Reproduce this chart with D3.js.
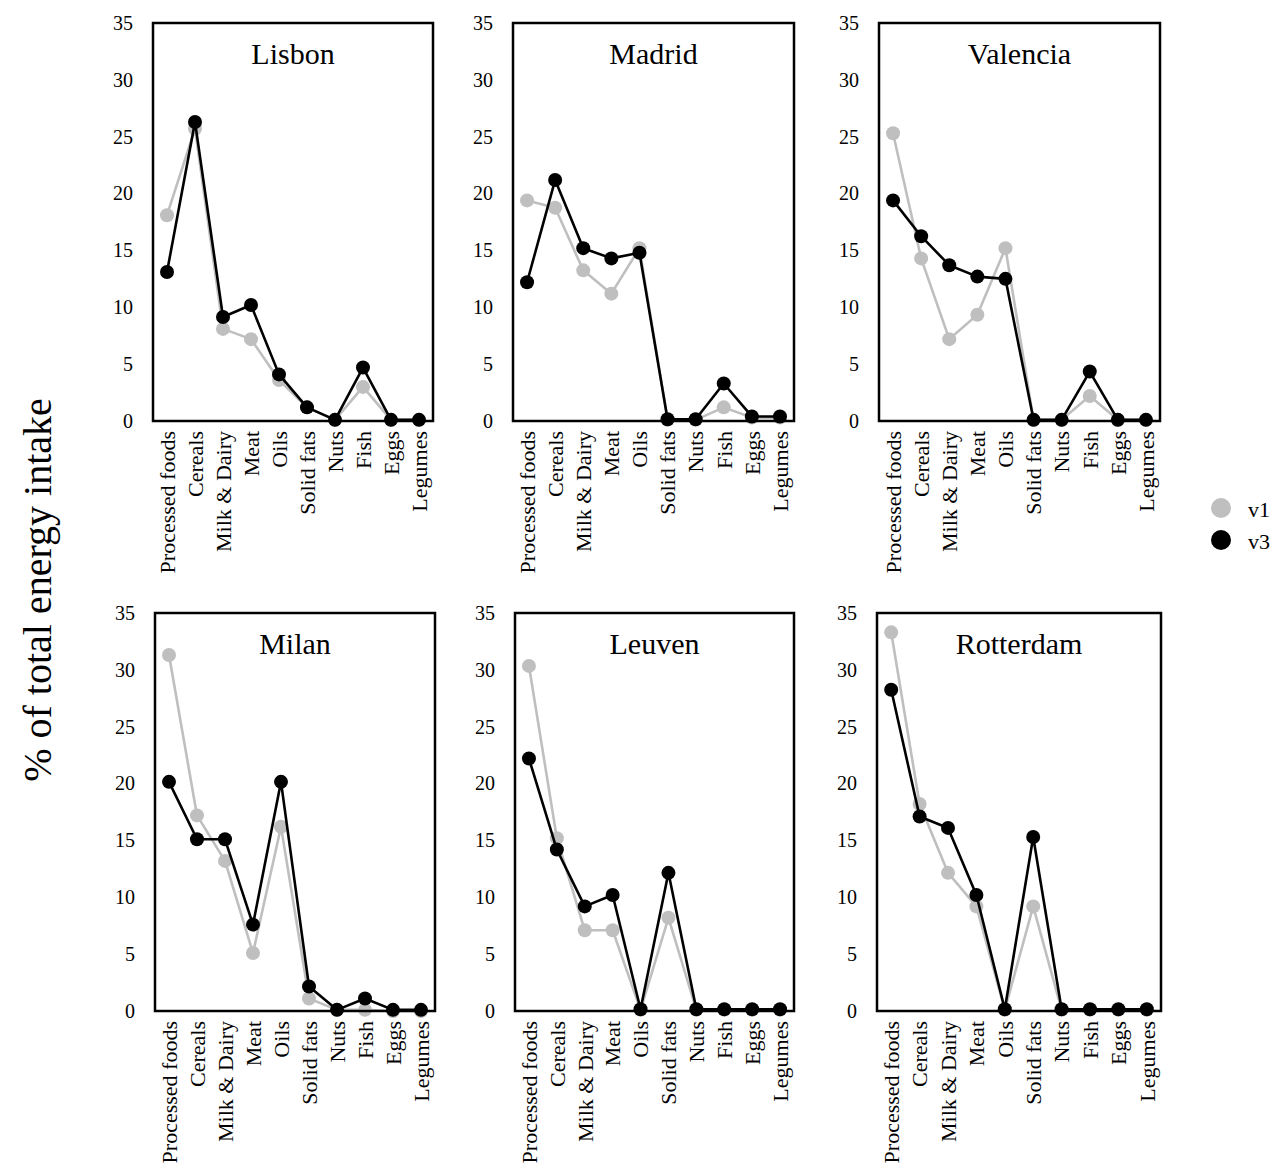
<!DOCTYPE html>
<html>
<head>
<meta charset="utf-8">
<script src="https://cdn.jsdelivr.net/npm/d3@7"></script>
<style>
  html, body { margin: 0; padding: 0; background: #fff; }
  svg { display: block; font-family: "Liberation Serif", "Times New Roman", serif; }
</style>
</head>
<body>
<svg id="chart" width="1280" height="1175"></svg>
<script>
// ---------- data ----------
const categories = ["Processed foods", "Cereals", "Milk & Dairy", "Meat", "Oils", "Solid fats", "Nuts", "Fish", "Eggs", "Legumes"];
const cities = ["Lisbon", "Madrid", "Valencia", "Milan", "Leuven", "Rotterdam"];
const yTicks = [0, 5, 10, 15, 20, 25, 30, 35];
const seriesNames = ["v1", "v3"];

const lisbonV1    = [18.1, 25.7, 8.1, 7.2, 3.6, 1.2, 0.1, 3.0, 0.1, 0.1];
const lisbonV3    = [13.1, 26.3, 9.15, 10.2, 4.1, 1.2, 0.1, 4.7, 0.1, 0.1];
const madridV1    = [19.4, 18.75, 13.25, 11.2, 15.2, 0.1, 0.1, 1.2, 0.3, 0.3];
const madridV3    = [12.2, 21.2, 15.2, 14.3, 14.8, 0.15, 0.15, 3.3, 0.4, 0.4];
const valenciaV1  = [25.3, 14.3, 7.2, 9.35, 15.2, 0.1, 0.1, 2.2, 0.1, 0.1];
const valenciaV3  = [19.4, 16.25, 13.7, 12.7, 12.5, 0.1, 0.1, 4.35, 0.1, 0.1];
const milanV1     = [31.3, 17.2, 13.2, 5.1, 16.2, 1.1, 0.1, 0.1, 0.0, 0.0];
const milanV3     = [20.15, 15.1, 15.1, 7.6, 20.15, 2.15, 0.1, 1.1, 0.1, 0.1];
const leuvenV1    = [30.35, 15.2, 7.1, 7.1, 0.1, 8.2, 0.1, 0.1, 0.1, 0.1];
const leuvenV3    = [22.2, 14.2, 9.2, 10.2, 0.15, 12.15, 0.15, 0.15, 0.15, 0.15];
const rotterdamV1 = [33.3, 18.2, 12.15, 9.2, 0.1, 9.2, 0.1, 0.1, 0.1, 0.1];
const rotterdamV3 = [28.25, 17.1, 16.1, 10.2, 0.15, 15.3, 0.15, 0.15, 0.15, 0.15];

const v1Values = [lisbonV1, madridV1, valenciaV1, milanV1, leuvenV1, rotterdamV1];
const v3Values = [lisbonV3, madridV3, valenciaV3, milanV3, leuvenV3, rotterdamV3];

// ---------- layout ----------
const panels = [
  { left: 153, right: 433, top: 23, bottom: 421 },
  { left: 513, right: 794, top: 23, bottom: 421 },
  { left: 879, right: 1160, top: 23, bottom: 421 },
  { left: 155, right: 435, top: 613, bottom: 1011 },
  { left: 515, right: 794, top: 613, bottom: 1011 },
  { left: 877, right: 1161, top: 613, bottom: 1011 }
];
const colors = { v1: "#bfbfbf", v3: "#000000" };

const svg = d3.select("#chart");

cities.forEach((city, i) => {
  const p = panels[i];
  const x = d3.scalePoint().domain(categories).range([p.left, p.right]).padding(0.5);
  const y = d3.scaleLinear().domain([0, 35]).range([p.bottom, p.top]);
  const g = svg.append("g");

  // y tick labels
  const yAxis = d3.axisLeft(y).tickValues(yTicks).tickSize(0).tickPadding(20);
  const ya = g.append("g").attr("transform", `translate(${p.left},0)`).call(yAxis);
  ya.select(".domain").remove();
  ya.selectAll("text").attr("font-size", 20).attr("font-family", "Liberation Serif").attr("fill", "#000");

  // x labels
  const xAxis = d3.axisBottom(x).tickSize(0).tickPadding(0);
  const xa = g.append("g").attr("transform", `translate(0,${p.bottom})`).call(xAxis);
  xa.select(".domain").remove();
  xa.selectAll("text")
    .attr("font-size", 22).attr("font-family", "Liberation Serif").attr("fill", "#000")
    .attr("transform", "rotate(-90)")
    .attr("text-anchor", "end")
    .attr("x", -10).attr("y", 0).attr("dy", "0.33em");

  // series
  [["v1", v1Values[i]], ["v3", v3Values[i]]].forEach(([name, vals]) => {
    const data = categories.map((c, k) => ({ c, v: vals[k] }));
    const line = d3.line().x(d => x(d.c)).y(d => y(d.v));
    g.append("path").datum(data)
      .attr("d", line).attr("fill", "none")
      .attr("stroke", colors[name]).attr("stroke-width", 2.6).attr("stroke-linejoin", "round");
    g.selectAll(null).data(data).enter().append("circle")
      .attr("cx", d => x(d.c)).attr("cy", d => y(d.v)).attr("r", 7)
      .attr("fill", colors[name]);
  });

  // frame
  g.append("rect")
    .attr("x", p.left).attr("y", p.top)
    .attr("width", p.right - p.left).attr("height", p.bottom - p.top)
    .attr("fill", "none").attr("stroke", "#000").attr("stroke-width", 2.5);

  // title
  g.append("text")
    .attr("x", (p.left + p.right) / 2).attr("y", p.top + 41)
    .attr("text-anchor", "middle").attr("font-size", 30).attr("fill", "#000")
    .text(city);
});

// y-axis title
svg.append("text")
  .attr("transform", "translate(51,590) rotate(-90)")
  .attr("text-anchor", "middle").attr("font-size", 40).attr("fill", "#000")
  .text("% of total energy intake");

// legend
const legendY = [508, 540];
seriesNames.forEach((name, k) => {
  svg.append("circle").attr("cx", 1221).attr("cy", legendY[k]).attr("r", 10).attr("fill", colors[name]);
  svg.append("text").attr("x", 1248).attr("y", legendY[k] + 9)
    .attr("font-size", 22).attr("fill", "#000").text(name);
});
</script>
</body>
</html>
